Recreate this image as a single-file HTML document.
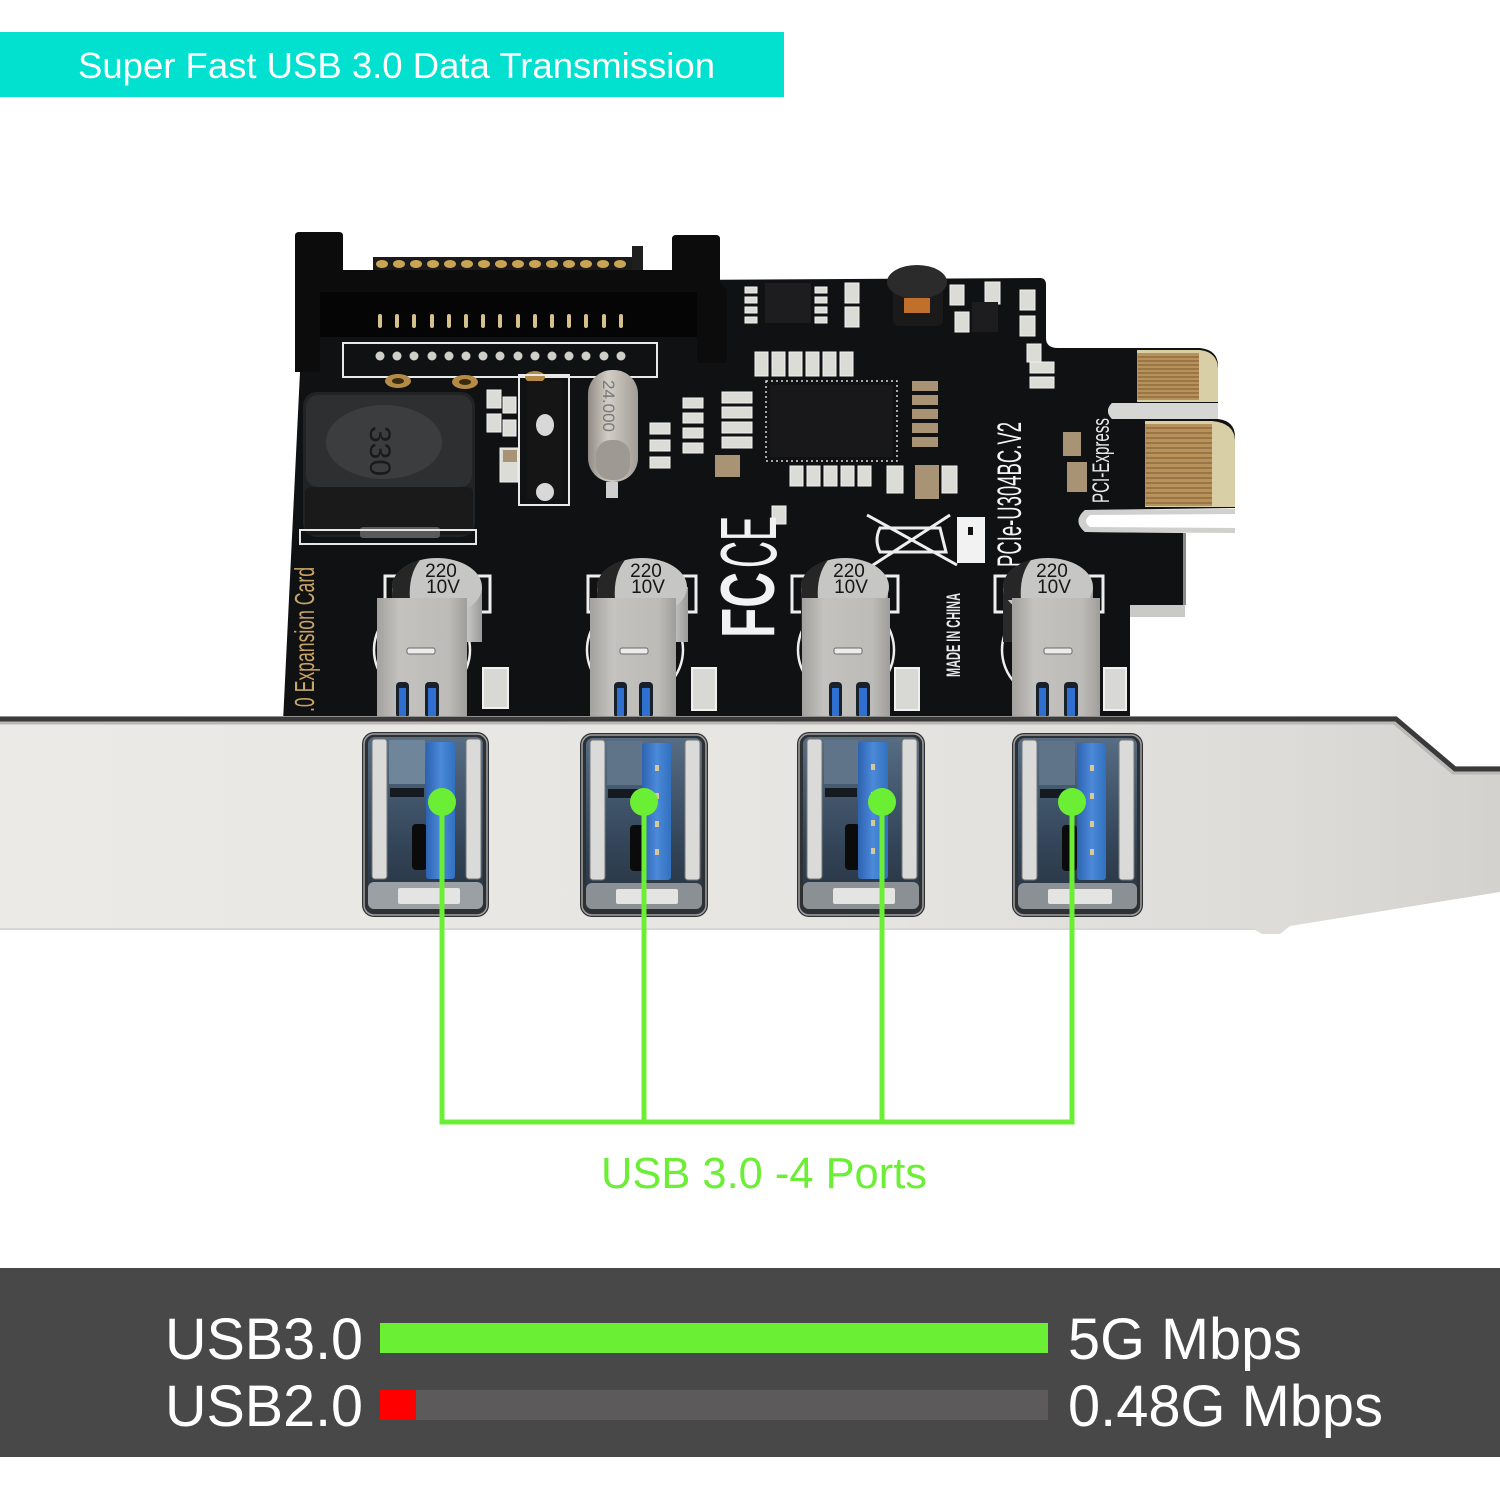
<!DOCTYPE html>
<html><head><meta charset="utf-8"><style>
html,body{margin:0;padding:0;background:#fff;}
svg{display:block;}
text{font-family:"Liberation Sans",Arial,sans-serif;}
</style></head><body>
<svg width="1500" height="1500" viewBox="0 0 1500 1500" xmlns="http://www.w3.org/2000/svg">
<defs>
 <linearGradient id="brk" x1="0" y1="0" x2="1" y2="0">
  <stop offset="0" stop-color="#eceae6"/><stop offset="0.55" stop-color="#e7e5e1"/><stop offset="0.85" stop-color="#dedcd8"/><stop offset="1" stop-color="#d4d2ce"/>
 </linearGradient>
 <linearGradient id="metal" x1="0" y1="0" x2="1" y2="0">
  <stop offset="0" stop-color="#a3a19d"/><stop offset="0.25" stop-color="#c4c2be"/><stop offset="0.8" stop-color="#bdbbb7"/><stop offset="1" stop-color="#a09e9a"/>
 </linearGradient>
 <linearGradient id="portin" x1="0" y1="0" x2="0" y2="1">
  <stop offset="0" stop-color="#566d84"/><stop offset="0.6" stop-color="#34465a"/><stop offset="1" stop-color="#27333f"/>
 </linearGradient>
 <linearGradient id="tongue" x1="0" y1="0" x2="1" y2="0">
  <stop offset="0" stop-color="#2d63b0"/><stop offset="0.5" stop-color="#4b89d9"/><stop offset="1" stop-color="#3270c0"/>
 </linearGradient>
 <linearGradient id="xtal" x1="0" y1="0" x2="1" y2="0">
  <stop offset="0" stop-color="#8f8b84"/><stop offset="0.4" stop-color="#d2cec6"/><stop offset="1" stop-color="#a29e97"/>
 </linearGradient>
 <linearGradient id="capg" x1="0" y1="0" x2="1" y2="0">
  <stop offset="0" stop-color="#2a2a2a"/><stop offset="0.28" stop-color="#2a2a2a"/><stop offset="0.32" stop-color="#bdbdbb"/><stop offset="0.8" stop-color="#cfcfcd"/><stop offset="1" stop-color="#9a9a98"/>
 </linearGradient>
</defs>

<rect width="1500" height="1500" fill="#ffffff"/>

<!-- Top banner -->
<rect x="0" y="32" width="784" height="65" fill="#02e0d0"/>
<text x="78" y="78" font-size="36" fill="#ffffff" textLength="637" lengthAdjust="spacingAndGlyphs">Super Fast USB 3.0 Data Transmission</text>

<!-- PCB -->
<path d="M300 372 L300 282 L1040 278 Q1046 278 1046 285 L1046 338 Q1046 348 1058 348 L1200 348 Q1218 350 1218 366 L1218 403 L1112 403 Q1104 411 1112 419 L1218 419 Q1235 421 1235 437 L1235 508 L1085 510 Q1072 521 1085 532 L1185 533 L1185 605 L1130 605 L1130 722 L283 722 Z" fill="#101113"/>
<!-- board edge highlights -->
<path d="M1218 403 L1112 403 Q1104 411 1112 419 L1218 419 Z" fill="#d6d6d4"/>
<path d="M1235 509 L1085 510 Q1072 521 1085 532 L1235 533 Z" fill="#d0d0ce"/>
<path d="M1240 514 L1090 515 Q1082 521 1090 527 L1240 528 Z" fill="#ffffff"/>
<rect x="1130" y="605" width="55" height="12" fill="#c9c9c7"/>
<rect x="1183" y="533" width="3" height="72" fill="#8a8a88"/>
<!-- gold fingers -->
<path d="M1137 350 L1200 350 Q1217 352 1218 368 L1218 402 L1137 402 Z" fill="#d9cfa6"/>
<rect x="1137" y="353" width="62" height="47" fill="#b8925a"/>
<path d="M1145 421 L1212 421 Q1234 423 1235 440 L1235 507 L1145 507 Z" fill="#d9cfa6"/>
<rect x="1145" y="424" width="67" height="82" fill="#b8925a"/>
<g stroke="#86653a" stroke-width="1.2">
 <line x1="1138" y1="357" x2="1199" y2="357"/><line x1="1138" y1="361" x2="1199" y2="361"/><line x1="1138" y1="365" x2="1199" y2="365"/><line x1="1138" y1="369" x2="1199" y2="369"/><line x1="1138" y1="373" x2="1199" y2="373"/><line x1="1138" y1="377" x2="1199" y2="377"/><line x1="1138" y1="381" x2="1199" y2="381"/><line x1="1138" y1="385" x2="1199" y2="385"/><line x1="1138" y1="389" x2="1199" y2="389"/><line x1="1138" y1="393" x2="1199" y2="393"/><line x1="1138" y1="397" x2="1199" y2="397"/>
 <line x1="1146" y1="428" x2="1212" y2="428"/><line x1="1146" y1="433" x2="1212" y2="433"/><line x1="1146" y1="438" x2="1212" y2="438"/><line x1="1146" y1="443" x2="1212" y2="443"/><line x1="1146" y1="448" x2="1212" y2="448"/><line x1="1146" y1="453" x2="1212" y2="453"/><line x1="1146" y1="458" x2="1212" y2="458"/><line x1="1146" y1="463" x2="1212" y2="463"/><line x1="1146" y1="468" x2="1212" y2="468"/><line x1="1146" y1="473" x2="1212" y2="473"/><line x1="1146" y1="478" x2="1212" y2="478"/><line x1="1146" y1="483" x2="1212" y2="483"/><line x1="1146" y1="488" x2="1212" y2="488"/><line x1="1146" y1="493" x2="1212" y2="493"/><line x1="1146" y1="498" x2="1212" y2="498"/><line x1="1146" y1="503" x2="1212" y2="503"/>
</g>

<!-- SATA connector -->
<rect x="373" y="257" width="260" height="14" fill="#1a1a1a"/>
<g fill="#c9a455">
 <ellipse cx="382" cy="264" rx="6" ry="4"/><ellipse cx="399" cy="264" rx="6" ry="4"/><ellipse cx="416" cy="264" rx="6" ry="4"/><ellipse cx="433" cy="264" rx="6" ry="4"/><ellipse cx="450" cy="264" rx="6" ry="4"/><ellipse cx="467" cy="264" rx="6" ry="4"/><ellipse cx="484" cy="264" rx="6" ry="4"/><ellipse cx="501" cy="264" rx="6" ry="4"/><ellipse cx="518" cy="264" rx="6" ry="4"/><ellipse cx="535" cy="264" rx="6" ry="4"/><ellipse cx="552" cy="264" rx="6" ry="4"/><ellipse cx="569" cy="264" rx="6" ry="4"/><ellipse cx="586" cy="264" rx="6" ry="4"/><ellipse cx="603" cy="264" rx="6" ry="4"/><ellipse cx="620" cy="264" rx="6" ry="4"/>
</g>
<rect x="632" y="246" width="11" height="26" fill="#1e1e1e"/>
<path d="M295 372 L295 236 Q295 232 299 232 L339 232 Q343 232 343 236 L343 270 L672 270 L672 239 Q672 235 676 235 L716 235 Q720 235 720 239 L720 283 L727 290 L727 363 L697 363 L697 337 L320 337 L320 372 Z" fill="#0c0c0d"/>
<rect x="320" y="292" width="377" height="45" fill="#050506"/>
<g fill="#d6c08c">
 <rect x="378" y="314" width="4" height="14" rx="2"/><rect x="395" y="314" width="4" height="14" rx="2"/><rect x="412" y="314" width="4" height="14" rx="2"/><rect x="430" y="314" width="4" height="14" rx="2"/><rect x="447" y="314" width="4" height="14" rx="2"/><rect x="464" y="314" width="4" height="14" rx="2"/><rect x="481" y="314" width="4" height="14" rx="2"/><rect x="498" y="314" width="4" height="14" rx="2"/><rect x="516" y="314" width="4" height="14" rx="2"/><rect x="533" y="314" width="4" height="14" rx="2"/><rect x="550" y="314" width="4" height="14" rx="2"/><rect x="567" y="314" width="4" height="14" rx="2"/><rect x="584" y="314" width="4" height="14" rx="2"/><rect x="602" y="314" width="4" height="14" rx="2"/><rect x="619" y="314" width="4" height="14" rx="2"/>
</g>
<rect x="343" y="343" width="314" height="34" fill="none" stroke="#e8e8e8" stroke-width="2"/>
<g fill="#cfcfc8">
 <circle cx="380" cy="356" r="4.5"/><circle cx="397" cy="356" r="4.5"/><circle cx="414" cy="356" r="4.5"/><circle cx="432" cy="356" r="4.5"/><circle cx="449" cy="356" r="4.5"/><circle cx="466" cy="356" r="4.5"/><circle cx="483" cy="356" r="4.5"/><circle cx="500" cy="356" r="4.5"/><circle cx="518" cy="356" r="4.5"/><circle cx="535" cy="356" r="4.5"/><circle cx="552" cy="356" r="4.5"/><circle cx="569" cy="356" r="4.5"/><circle cx="586" cy="356" r="4.5"/><circle cx="604" cy="356" r="4.5"/><circle cx="621" cy="356" r="4.5"/>
</g>
<!-- gold mounting pads -->
<ellipse cx="398" cy="381" rx="13" ry="7" fill="#b58a45"/><ellipse cx="398" cy="381" rx="6" ry="3" fill="#3a2a10"/>
<ellipse cx="465" cy="382" rx="13" ry="7" fill="#b58a45"/><ellipse cx="465" cy="382" rx="6" ry="3" fill="#3a2a10"/>
<ellipse cx="535" cy="377" rx="10" ry="6" fill="#b58a45"/>

<!-- inductor -->
<rect x="303" y="392" width="172" height="145" rx="14" fill="#222324"/>
<rect x="306" y="395" width="166" height="92" rx="12" fill="#2e2f31"/>
<ellipse cx="384" cy="442" rx="58" ry="37" fill="#3c3d3f"/>
<text transform="translate(370,426) rotate(90)" font-size="30" fill="#1a1a1a">330</text>
<rect x="305" y="487" width="168" height="48" rx="6" fill="#1a1a1b"/>
<rect x="360" y="527" width="80" height="11" rx="3" fill="#5a5a5a"/>
<rect x="300" y="530" width="176" height="14" fill="none" stroke="#e6e6e6" stroke-width="2"/>

<!-- SMD IC with pads near crystal -->
<rect x="519" y="375" width="50" height="130" fill="none" stroke="#e8e8e8" stroke-width="2"/>
<rect x="527" y="381" width="36" height="118" fill="#151516"/>
<ellipse cx="545" cy="425" rx="9" ry="11" fill="#d8d8d8"/>
<ellipse cx="545" cy="492" rx="9" ry="9" fill="#d8d8d8"/>
<!-- crystal -->
<rect x="588" y="370" width="50" height="112" rx="24" fill="url(#xtal)"/>
<rect x="596" y="440" width="34" height="40" rx="15" fill="#9e9a93"/>
<text transform="translate(603,380) rotate(90)" font-size="17" fill="#777">24.000</text>
<rect x="606" y="482" width="12" height="16" fill="#cfcfcf"/>

<!-- small components (generic) -->
<g fill="#dcdcd6" stroke="#f0f0f0" stroke-width="1">
 <rect x="487" y="390" width="14" height="18"/><rect x="487" y="414" width="14" height="18"/><rect x="503" y="397" width="13" height="16"/><rect x="503" y="420" width="13" height="16"/>
 <rect x="650" y="423" width="20" height="11"/><rect x="650" y="440" width="20" height="11"/><rect x="650" y="457" width="20" height="11"/>
 <rect x="683" y="398" width="20" height="10"/><rect x="683" y="413" width="20" height="10"/><rect x="683" y="428" width="20" height="10"/><rect x="683" y="443" width="20" height="10"/>
 <rect x="722" y="392" width="30" height="11"/><rect x="722" y="407" width="30" height="11"/><rect x="722" y="422" width="30" height="11"/><rect x="722" y="437" width="30" height="11"/>
 <rect x="745" y="287" width="12" height="6"/><rect x="745" y="297" width="12" height="6"/><rect x="745" y="307" width="12" height="6"/><rect x="745" y="317" width="12" height="6"/>
 <rect x="815" y="287" width="12" height="6"/><rect x="815" y="297" width="12" height="6"/><rect x="815" y="307" width="12" height="6"/><rect x="815" y="317" width="12" height="6"/>
 <rect x="755" y="352" width="13" height="24"/><rect x="772" y="352" width="13" height="24"/><rect x="789" y="352" width="13" height="24"/><rect x="806" y="352" width="13" height="24"/><rect x="823" y="352" width="13" height="24"/><rect x="840" y="352" width="13" height="24"/>
 <rect x="790" y="466" width="13" height="20"/><rect x="807" y="466" width="13" height="20"/><rect x="824" y="466" width="13" height="20"/><rect x="841" y="466" width="13" height="20"/><rect x="858" y="466" width="13" height="20"/>
 <rect x="845" y="283" width="14" height="20"/><rect x="845" y="307" width="14" height="20"/><rect x="950" y="285" width="14" height="20"/><rect x="955" y="312" width="14" height="20"/>
 <rect x="985" y="282" width="15" height="22"/><rect x="1020" y="290" width="15" height="20"/><rect x="1020" y="316" width="15" height="20"/><rect x="1027" y="344" width="14" height="18"/>
 <rect x="1030" y="362" width="24" height="11"/><rect x="1030" y="377" width="24" height="11"/>
 <rect x="772" y="506" width="14" height="18"/>
 <rect x="500" y="448" width="18" height="34"/>
 <rect x="942" y="466" width="15" height="27"/><rect x="887" y="466" width="16" height="27"/>
</g>
<g fill="#a89475">
 <rect x="912" y="381" width="26" height="10"/><rect x="912" y="395" width="26" height="10"/><rect x="912" y="409" width="26" height="10"/><rect x="912" y="423" width="26" height="10"/><rect x="912" y="437" width="26" height="10"/>
 <rect x="915" y="465" width="24" height="34"/>
 <rect x="715" y="455" width="25" height="22"/>
 <rect x="1063" y="432" width="18" height="24"/><rect x="1067" y="462" width="20" height="30"/>
 <rect x="503" y="450" width="14" height="12"/>
</g>
<!-- small ICs -->
<rect x="765" y="283" width="46" height="40" fill="#1d1d1f"/>
<rect x="972" y="302" width="26" height="30" fill="#1d1d1f"/>
<!-- coil -->
<rect x="893" y="284" width="50" height="42" rx="6" fill="#1a1a1a"/>
<ellipse cx="917" cy="282" rx="30" ry="17" fill="#2b2b2b"/>
<rect x="904" y="298" width="26" height="15" fill="#c0702a"/>
<!-- main chip -->
<rect x="766" y="381" width="131" height="80" fill="none" stroke="#d8d8d8" stroke-width="1.5" stroke-dasharray="2 3"/>
<rect x="770" y="385" width="123" height="72" fill="#18181a"/>

<!-- logos and text on PCB -->
<text transform="translate(776,568) rotate(-90)" font-size="80" fill="#f2f2f2" textLength="52" lengthAdjust="spacingAndGlyphs">CE</text>
<text transform="translate(774,638) rotate(-90)" font-size="76" font-weight="bold" fill="#f2f2f2" textLength="66" lengthAdjust="spacingAndGlyphs">FC</text>
<text transform="translate(1021,567) rotate(-90)" font-size="34" fill="#f4f4f4" textLength="145" lengthAdjust="spacingAndGlyphs">PCIe-U304BC.V2</text>
<text transform="translate(1109,503) rotate(-90)" font-size="24" fill="#e8e8e8" textLength="85" lengthAdjust="spacingAndGlyphs">PCI-Express</text>
<text transform="translate(960,677) rotate(-90)" font-size="19" font-weight="bold" fill="#e8e8e8" textLength="84" lengthAdjust="spacingAndGlyphs">MADE IN CHINA</text>
<text transform="translate(314,712) rotate(-90)" font-size="28" fill="#c9a467" textLength="145" lengthAdjust="spacingAndGlyphs">.0 Expansion Card</text>
<!-- WEEE -->
<g stroke="#eeeeee" stroke-width="3" fill="none">
 <line x1="867" y1="515" x2="957" y2="565"/><line x1="950" y1="515" x2="870" y2="567"/>
 <path d="M880 528 L940 528 L946 552 L880 552 Q874 540 880 528 Z"/>
</g>
<rect x="957" y="517" width="28" height="46" fill="#f2f2f2"/>
<rect x="968" y="527" width="5" height="8" fill="#101113"/>

<!-- USB bodies, capacitors on PCB -->
<g>
 <!-- port 1 -->
 <rect x="385" y="576" width="105" height="36" fill="none" stroke="#eeeeee" stroke-width="3"/>
 <circle cx="422" cy="650" r="48" fill="none" stroke="#eeeeee" stroke-width="2.5"/>
 <rect x="392" y="587" width="90" height="55" fill="url(#capg)"/>
 <ellipse cx="437" cy="587" rx="45" ry="29" fill="#c6c6c4"/>
 <path d="M392 587 A45 29 0 0 1 420 560 Q408 575 410 600 L394 600 Z" fill="#262626"/>
 <text x="441" y="577" font-size="19" fill="#161616" text-anchor="middle">220</text>
 <text x="443" y="593" font-size="19" fill="#161616" text-anchor="middle">10V</text>
 <rect x="483" y="668" width="25" height="40" fill="#d8d8d4" stroke="#f0f0f0" stroke-width="2"/>
 <rect x="377" y="598" width="90" height="120" fill="url(#metal)"/>
 <rect x="407" y="648" width="28" height="6" rx="2" fill="#ececec" stroke="#6a6a6a"/>
 <rect x="396" y="682" width="13" height="36" rx="4" fill="#18202a"/><rect x="399" y="688" width="7" height="30" fill="#2f6fcf"/>
 <rect x="425" y="682" width="14" height="36" rx="4" fill="#18202a"/><rect x="428" y="688" width="8" height="30" fill="#2f6fcf"/>

 <!-- port 2 -->
 <rect x="588" y="576" width="108" height="36" fill="none" stroke="#eeeeee" stroke-width="3"/>
 <circle cx="635" cy="650" r="48" fill="none" stroke="#eeeeee" stroke-width="2.5"/>
 <rect x="597" y="587" width="91" height="55" fill="url(#capg)"/>
 <ellipse cx="642" cy="587" rx="45" ry="29" fill="#c6c6c4"/>
 <path d="M597 587 A45 29 0 0 1 625 560 Q613 575 615 600 L599 600 Z" fill="#262626"/>
 <text x="646" y="577" font-size="19" fill="#161616" text-anchor="middle">220</text>
 <text x="648" y="593" font-size="19" fill="#161616" text-anchor="middle">10V</text>
 <rect x="692" y="668" width="24" height="42" fill="#d8d8d4" stroke="#f0f0f0" stroke-width="2"/>
 <rect x="590" y="598" width="86" height="120" fill="url(#metal)"/>
 <rect x="620" y="648" width="28" height="6" rx="2" fill="#ececec" stroke="#6a6a6a"/>
 <rect x="614" y="682" width="13" height="36" rx="4" fill="#18202a"/><rect x="617" y="688" width="7" height="30" fill="#2f6fcf"/>
 <rect x="639" y="682" width="14" height="36" rx="4" fill="#18202a"/><rect x="642" y="688" width="8" height="30" fill="#2f6fcf"/>

 <!-- port 3 -->
 <rect x="792" y="576" width="106" height="36" fill="none" stroke="#eeeeee" stroke-width="3"/>
 <circle cx="846" cy="650" r="48" fill="none" stroke="#eeeeee" stroke-width="2.5"/>
 <rect x="801" y="587" width="87" height="55" fill="url(#capg)"/>
 <ellipse cx="845" cy="587" rx="44" ry="29" fill="#c6c6c4"/>
 <path d="M801 587 A44 29 0 0 1 828 560 Q816 575 818 600 L803 600 Z" fill="#262626"/>
 <text x="849" y="577" font-size="19" fill="#161616" text-anchor="middle">220</text>
 <text x="851" y="593" font-size="19" fill="#161616" text-anchor="middle">10V</text>
 <rect x="895" y="668" width="24" height="42" fill="#d8d8d4" stroke="#f0f0f0" stroke-width="2"/>
 <rect x="802" y="598" width="88" height="120" fill="url(#metal)"/>
 <rect x="834" y="648" width="28" height="6" rx="2" fill="#ececec" stroke="#6a6a6a"/>
 <rect x="829" y="682" width="13" height="36" rx="4" fill="#18202a"/><rect x="832" y="688" width="7" height="30" fill="#2f6fcf"/>
 <rect x="856" y="682" width="14" height="36" rx="4" fill="#18202a"/><rect x="859" y="688" width="8" height="30" fill="#2f6fcf"/>

 <!-- port 4 -->
 <rect x="995" y="576" width="108" height="36" fill="none" stroke="#eeeeee" stroke-width="3"/>
 <circle cx="1050" cy="650" r="48" fill="none" stroke="#eeeeee" stroke-width="2.5"/>
 <rect x="1003" y="587" width="90" height="55" fill="url(#capg)"/>
 <ellipse cx="1048" cy="587" rx="45" ry="29" fill="#c6c6c4"/>
 <path d="M1003 587 A45 29 0 0 1 1031 560 Q1019 575 1021 600 L1005 600 Z" fill="#262626"/>
 <text x="1052" y="577" font-size="19" fill="#161616" text-anchor="middle">220</text>
 <text x="1054" y="593" font-size="19" fill="#161616" text-anchor="middle">10V</text>
 <rect x="1104" y="668" width="22" height="42" fill="#d8d8d4" stroke="#f0f0f0" stroke-width="2"/>
 <rect x="1012" y="598" width="88" height="120" fill="url(#metal)"/>
 <rect x="1044" y="648" width="28" height="6" rx="2" fill="#ececec" stroke="#6a6a6a"/>
 <rect x="1036" y="682" width="13" height="36" rx="4" fill="#18202a"/><rect x="1039" y="688" width="7" height="30" fill="#2f6fcf"/>
 <rect x="1064" y="682" width="14" height="36" rx="4" fill="#18202a"/><rect x="1067" y="688" width="8" height="30" fill="#2f6fcf"/>
</g>

<!-- Bracket -->
<path d="M0 716 L1396 716 L1455 766 L1500 766 L1500 892 L1290 926 L1280 934 L1262 934 L1255 930 L0 930 Z" fill="url(#brk)"/>
<path d="M0 719 L1396 719 L1455 769 L1500 769" fill="none" stroke="#3a3a3a" stroke-width="5"/>
<path d="M0 723 L1394 723 L1453 773 L1500 773" fill="none" stroke="#b9b8b4" stroke-width="3"/>
<path d="M0 929 L1255 929" stroke="#d8d7d3" stroke-width="2"/>

<!-- Ports on bracket -->
<g transform="translate(362,732)">
 <rect x="0" y="0" width="127" height="185" rx="12" fill="#2e3134"/>
 <rect x="2" y="2" width="123" height="181" rx="10" fill="none" stroke="#a0a0a0" stroke-width="1.5"/>
 <rect x="6" y="5" width="115" height="172" rx="7" fill="url(#portin)"/>
 <rect x="27" y="8" width="36" height="44" fill="#6f859a"/>
 <rect x="28" y="56" width="34" height="9" fill="#151a20"/>
 <rect x="50" y="92" width="15" height="46" rx="4" fill="#0b0b0b"/>
 <rect x="10" y="7" width="15" height="140" rx="3" fill="#dadad8" stroke="#777" stroke-width="1"/>
 <rect x="104" y="7" width="15" height="140" rx="3" fill="#dadad8" stroke="#777" stroke-width="1"/>
 <rect x="6" y="150" width="115" height="27" rx="6" fill="#9ba0a4"/>
 <rect x="36" y="156" width="62" height="16" rx="2" fill="#e4e4e2"/>
 <rect x="64" y="10" width="29" height="137" rx="3" fill="url(#tongue)"/>
</g>
<g transform="translate(580,733)">
 <rect x="0" y="0" width="128" height="184" rx="12" fill="#2e3134"/>
 <rect x="2" y="2" width="124" height="180" rx="10" fill="none" stroke="#a0a0a0" stroke-width="1.5"/>
 <rect x="6" y="5" width="116" height="171" rx="7" fill="url(#portin)"/>
 <rect x="27" y="8" width="36" height="44" fill="#5f7488"/>
 <rect x="28" y="56" width="34" height="9" fill="#151a20"/>
 <rect x="50" y="92" width="15" height="46" rx="4" fill="#0b0b0b"/>
 <rect x="10" y="7" width="15" height="140" rx="3" fill="#dadad8" stroke="#777" stroke-width="1"/>
 <rect x="105" y="7" width="15" height="140" rx="3" fill="#dadad8" stroke="#777" stroke-width="1"/>
 <rect x="6" y="150" width="116" height="26" rx="6" fill="#8b9094"/>
 <rect x="36" y="156" width="62" height="15" rx="2" fill="#e4e4e2"/>
 <rect x="62" y="10" width="29" height="137" rx="3" fill="url(#tongue)"/>
 <g fill="#d8c79a"><rect x="75" y="32" width="4" height="6"/><rect x="75" y="60" width="4" height="6"/><rect x="75" y="88" width="4" height="6"/><rect x="75" y="116" width="4" height="6"/></g>
</g>
<g transform="translate(797,732)">
 <rect x="0" y="0" width="128" height="185" rx="12" fill="#2e3134"/>
 <rect x="2" y="2" width="124" height="181" rx="10" fill="none" stroke="#a0a0a0" stroke-width="1.5"/>
 <rect x="6" y="5" width="116" height="172" rx="7" fill="url(#portin)"/>
 <rect x="27" y="8" width="34" height="44" fill="#5f7488"/>
 <rect x="28" y="56" width="32" height="9" fill="#151a20"/>
 <rect x="48" y="92" width="15" height="46" rx="4" fill="#0b0b0b"/>
 <rect x="10" y="7" width="15" height="140" rx="3" fill="#dadad8" stroke="#777" stroke-width="1"/>
 <rect x="105" y="7" width="15" height="140" rx="3" fill="#dadad8" stroke="#777" stroke-width="1"/>
 <rect x="6" y="150" width="116" height="27" rx="6" fill="#8b9094"/>
 <rect x="36" y="156" width="62" height="16" rx="2" fill="#e4e4e2"/>
 <rect x="61" y="10" width="30" height="137" rx="3" fill="url(#tongue)"/>
 <g fill="#d8c79a"><rect x="74" y="32" width="4" height="6"/><rect x="74" y="60" width="4" height="6"/><rect x="74" y="88" width="4" height="6"/><rect x="74" y="116" width="4" height="6"/></g>
</g>
<g transform="translate(1012,733)">
 <rect x="0" y="0" width="131" height="184" rx="12" fill="#2e3134"/>
 <rect x="2" y="2" width="127" height="180" rx="10" fill="none" stroke="#a0a0a0" stroke-width="1.5"/>
 <rect x="6" y="5" width="119" height="171" rx="7" fill="url(#portin)"/>
 <rect x="27" y="8" width="36" height="44" fill="#5f7488"/>
 <rect x="28" y="56" width="34" height="9" fill="#151a20"/>
 <rect x="50" y="92" width="15" height="46" rx="4" fill="#0b0b0b"/>
 <rect x="10" y="7" width="15" height="140" rx="3" fill="#dadad8" stroke="#777" stroke-width="1"/>
 <rect x="107" y="7" width="15" height="140" rx="3" fill="#dadad8" stroke="#777" stroke-width="1"/>
 <rect x="6" y="150" width="119" height="26" rx="6" fill="#8b9094"/>
 <rect x="36" y="156" width="64" height="15" rx="2" fill="#e4e4e2"/>
 <rect x="65" y="10" width="29" height="137" rx="3" fill="url(#tongue)"/>
 <g fill="#d8c79a"><rect x="78" y="32" width="4" height="6"/><rect x="78" y="60" width="4" height="6"/><rect x="78" y="88" width="4" height="6"/><rect x="78" y="116" width="4" height="6"/></g>
</g>

<!-- Green connectors -->
<g stroke="#6bef34" stroke-width="5" fill="none">
 <line x1="442" y1="802" x2="442" y2="1124"/>
 <line x1="644" y1="802" x2="644" y2="1124"/>
 <line x1="882" y1="802" x2="882" y2="1124"/>
 <line x1="1072" y1="802" x2="1072" y2="1124"/>
 <line x1="439.5" y1="1122" x2="1074.5" y2="1122"/>
</g>
<g fill="#6bef34">
 <circle cx="442" cy="802" r="14"/>
 <circle cx="644" cy="802" r="14"/>
 <circle cx="882" cy="802" r="14"/>
 <circle cx="1072" cy="802" r="14"/>
</g>
<text x="601" y="1188" font-size="44" fill="#6bef34" textLength="326" lengthAdjust="spacingAndGlyphs">USB 3.0 -4 Ports</text>

<!-- Bottom speed comparison -->
<rect x="0" y="1268" width="1500" height="189" fill="#484848"/>
<text x="165" y="1359" font-size="58" fill="#ffffff" textLength="198" lengthAdjust="spacingAndGlyphs">USB3.0</text>
<text x="165" y="1426" font-size="58" fill="#ffffff" textLength="198" lengthAdjust="spacingAndGlyphs">USB2.0</text>
<rect x="380" y="1323" width="668" height="30" fill="#6bef34"/>
<rect x="380" y="1390" width="668" height="30" fill="#5c5a5b"/>
<rect x="380" y="1390" width="36" height="30" fill="#ff0000"/>
<text x="1068" y="1359" font-size="58" fill="#ffffff" textLength="234" lengthAdjust="spacingAndGlyphs">5G Mbps</text>
<text x="1068" y="1426" font-size="58" fill="#ffffff" textLength="315" lengthAdjust="spacingAndGlyphs">0.48G Mbps</text>
</svg>
</body></html>
